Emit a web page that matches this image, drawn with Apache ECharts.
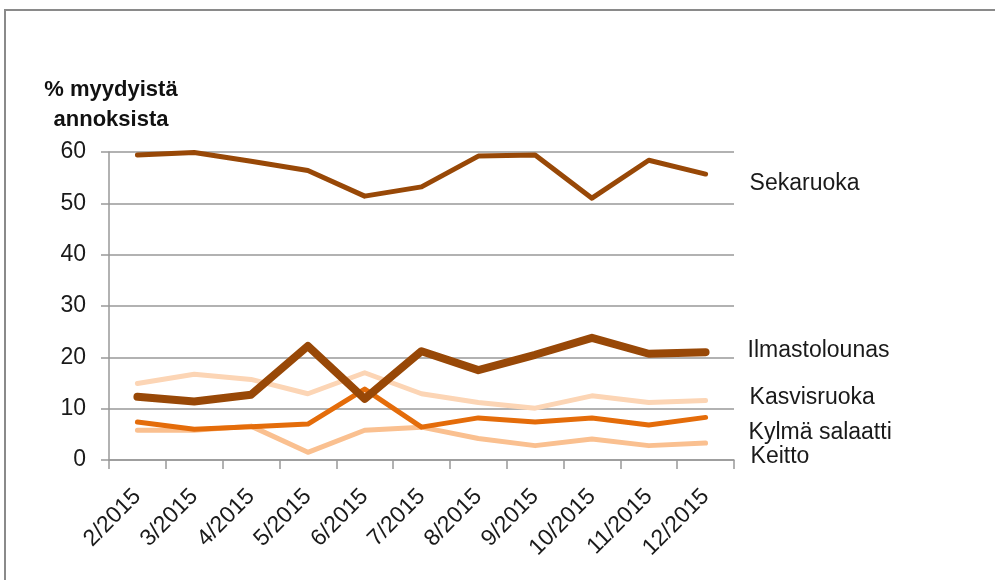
<!DOCTYPE html>
<html>
<head>
<meta charset="utf-8">
<script src="https://cdn.jsdelivr.net/npm/echarts@6/dist/echarts.min.js"></script>
<style>
  html, body { margin: 0; padding: 0; background: #fff; overflow: hidden; }
  #frame { position: absolute; left: 4px; top: 9px; width: 1010px; height: 600px; border: 2px solid #8a8a8a; box-sizing: border-box; }
  #chart { position: absolute; left: 0; top: 0; width: 995px; height: 580px; }
</style>
</head>
<body>
<div id="frame"></div>
<div id="chart"></div>
<script>
const months = ['2/2015','3/2015','4/2015','5/2015','6/2015','7/2015','8/2015','9/2015','10/2015','11/2015','12/2015'];
const sekaruoka     = [59.4, 59.9, 58.2, 56.4, 51.4, 53.2, 59.2, 59.4, 51.0, 58.4, 55.7];
const ilmastolounas = [12.3, 11.4, 12.7, 22.2, 11.9, 21.2, 17.5, 20.5, 23.8, 20.7, 21.0];
const kasvisruoka   = [14.9, 16.7, 15.7, 12.9, 17.0, 12.9, 11.2, 10.1, 12.5, 11.2, 11.6];
const kylmaSalaatti = [7.4, 6.0, 6.5, 7.0, 13.8, 6.4, 8.2, 7.4, 8.2, 6.8, 8.3];
const keitto        = [5.8, 5.8, 6.6, 1.5, 5.8, 6.4, 4.2, 2.8, 4.1, 2.8, 3.3];
const yTicks = [0, 10, 20, 30, 40, 50, 60];

const FONT = '"Liberation Sans", Arial, sans-serif';
const TXT = '#1a1a1a';

function mk(name, data, color, width, z, off) {
  return {
    name: name, type: 'line', data: data, z: z,
    symbol: 'none', smooth: false,
    lineStyle: { color: color, width: width, cap: 'round', join: 'round' },
    itemStyle: { color: color },
    endLabel: {
      show: true, formatter: '{a}', distance: 0, offset: off,
      color: TXT, fontFamily: FONT, fontSize: 23
    },
    emphasis: { disabled: true }
  };
}

const chart = echarts.init(document.getElementById('chart'), null, { renderer: 'canvas' });
chart.setOption({
  animation: false,
  backgroundColor: 'transparent',
  title: {
    text: '% myydyistä\nannoksista',
    left: 106, top: 70, textAlign: 'center',
    textStyle: { fontFamily: FONT, fontWeight: 'bold', fontSize: 22, lineHeight: 30, color: '#111' }
  },
  grid: { left: 109, right: 261, top: 152, bottom: 120, containLabel: false },
  xAxis: {
    type: 'category', data: months, boundaryGap: true,
    axisLine: { lineStyle: { color: '#999', width: 1.5 } },
    axisTick: { show: true, length: 9, alignWithLabel: false, lineStyle: { color: '#999', width: 1.5 } },
    axisLabel: { rotate: 45, margin: 33, color: TXT, fontFamily: FONT, fontSize: 23, interval: 0 },
    splitLine: { show: false }
  },
  yAxis: {
    type: 'value', min: yTicks[0], max: yTicks[yTicks.length - 1], interval: 10,
    axisLine: { show: true, lineStyle: { color: '#999', width: 1.5 } },
    axisTick: { show: true, length: 8, lineStyle: { color: '#999', width: 1.5 } },
    axisLabel: { margin: 23, color: TXT, fontFamily: FONT, fontSize: 23 },
    splitLine: { show: true, lineStyle: { color: '#999', width: 1.5 } }
  },
  series: [
    mk('Kasvisruoka', kasvisruoka, '#FCD5B5', 5, 2, [44, -3]),
    mk('Keitto', keitto, '#FAC090', 5, 3, [45, 14]),
    mk('Kylmä salaatti', kylmaSalaatti, '#E46C0A', 5, 4, [43, 15]),
    mk('Sekaruoka', sekaruoka, '#984807', 5, 5, [44, 10]),
    mk('Ilmastolounas', ilmastolounas, '#984807', 8, 6, [42, -2])
  ]
});
</script>
</body>
</html>
